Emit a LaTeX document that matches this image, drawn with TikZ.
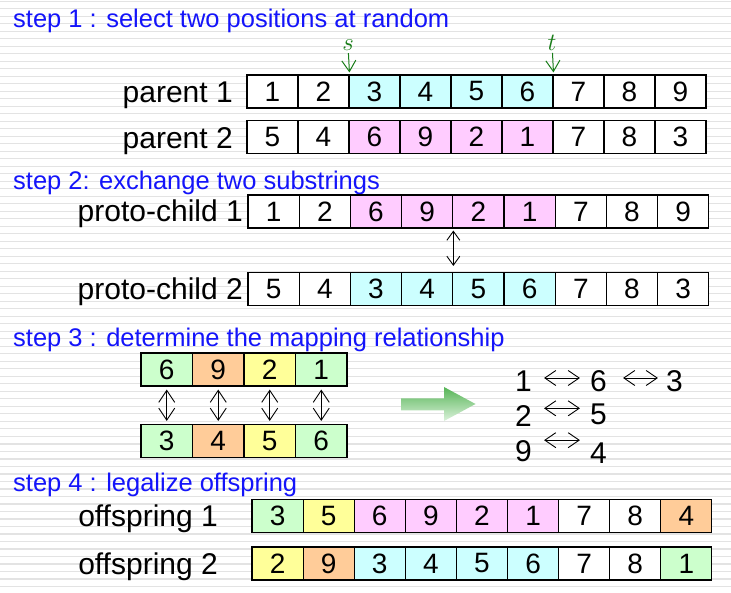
\documentclass[tikz,border=0pt]{standalone}
\usepackage{fontspec}
\setmainfont{Liberation Sans}
\usetikzlibrary{arrows.meta,calc}
\definecolor{cellcyan}{RGB}{204,255,255}
\definecolor{cellpink}{RGB}{255,204,255}
\definecolor{cellgreen}{RGB}{204,255,204}
\definecolor{cellorange}{RGB}{255,204,153}
\definecolor{cellyellow}{RGB}{255,255,153}
\definecolor{stepblue}{RGB}{20,20,250}
\definecolor{markgreen}{RGB}{25,125,25}
\def\cellrow(#1)(#2,#3:#4)#5{\foreach \v/\c [count=\i] in {#5} {\node[cell, minimum width=#4pt, fill=\c] (#1-\i) at ({#2+(\i-0.5)*#4},#3) {\v};}}

\begin{document}
\begin{tikzpicture}[x=1pt, y=-1pt,
	cell/.style={draw, line width=1.1pt, minimum height=33pt, inner sep=0pt, font=\fontsize{28}{28}\selectfont},
	lbl/.style={anchor=base east, inner sep=0pt, font=\fontsize{30}{30}\selectfont},
	steptext/.style={anchor=base west, inner sep=0pt, text=stepblue, font=\fontsize{25.5}{26}\selectfont},
	mapdigit/.style={inner sep=0pt, font=\fontsize{30}{30}\selectfont},
	stripe/.style={line width=1.4pt, color=black!11}]
			%%%%% START %%%%%
			
			\useasboundingbox (0,0) rectangle (731,593);
			\fill[white] (0,0) rectangle (731,593);
			\foreach \k in {0,...,79} \draw[stripe] (0,{1.3+7.5*\k}) -- (731,{1.3+7.5*\k});
			
			% step 1
			\node[steptext] (step1) at (13,27.5) {step 1 : select two positions at random};
			\cellrow(p1)(247,91.5:51){1/white,2/white,3/cellcyan,4/cellcyan,5/cellcyan,6/cellcyan,7/white,8/white,9/white}
			\cellrow(p2)(247,137:51){5/white,4/white,6/cellpink,9/cellpink,2/cellpink,1/cellpink,7/white,8/white,3/white}
			\node[lbl] (l-p1) at (233,103) {parent 1};
			\node[lbl] (l-p2) at (233,148.5) {parent 2};
			
			\node[inner sep=0pt, text=markgreen, font=\fontsize{23}{23}\selectfont] (s) at (348,45.5) {$s$};
			\node[inner sep=0pt, text=markgreen, font=\fontsize{23}{23}\selectfont] (t) at (552,43) {$t$};
			\draw[markgreen, line width=1pt, -{Straight Barb[length=11pt,width=14pt]}, shorten <=2pt, shorten >=2pt] (s) -- (p1-2.north east);
			\draw[markgreen, line width=1pt, -{Straight Barb[length=11pt,width=14pt]}, shorten <=2pt, shorten >=2pt] (t) -- (p1-6.north east);
			
			% step 2
			\node[steptext] (step2) at (13,190) {step 2: exchange two substrings};
			\cellrow(c1)(248,211.5:51.2){1/white,2/white,6/cellpink,9/cellpink,2/cellpink,1/cellpink,7/white,8/white,9/white}
			\cellrow(c2)(248,289:51.2){5/white,4/white,3/cellcyan,4/cellcyan,5/cellcyan,6/cellcyan,7/white,8/white,3/white}
			\node[lbl] (l-c1) at (243,222) {proto-child 1};
			\node[lbl] (l-c2) at (243,299.5) {proto-child 2};
			\draw[line width=0.9pt, {Straight Barb[length=9pt,width=13pt]}-{Straight Barb[length=9pt,width=13pt]}, shorten <=2pt, shorten >=6pt] (c1-4.south east) -- (c2-4.north east);
			
			% step 3
			\node[steptext] (step3) at (13,346.5) {step 3 : determine the mapping relationship};
			\cellrow(m1)(141,369.5:51.5){6/cellgreen,9/cellorange,2/cellyellow,1/cellgreen}
			\cellrow(m2)(141,441:51.5){3/cellgreen,4/cellorange,5/cellyellow,6/cellgreen}
			\foreach \i in {1,...,4}
				\draw[line width=0.9pt, {Straight Barb[length=12pt,width=16pt]}-{Straight Barb[length=12pt,width=16pt]}, shorten <=3pt, shorten >=3pt] (m1-\i) -- (m2-\i);
			
			\shade[top color={rgb,255:red,85;green,180;blue,85}, bottom color={rgb,255:red,220;green,242;blue,220}]
				(401,398.5) -- (444,398.5) -- (444,387) -- (475.5,404) -- (444,421) -- (444,410.5) -- (401,410.5) -- cycle;
			
			\node[mapdigit] (n11) at (523.5,381) {1};
			\node[mapdigit] (n12) at (598.5,381) {6};
			\node[mapdigit] (n13) at (674.5,381) {3};
			\node[mapdigit] (n21) at (523.5,416) {2};
			\node[mapdigit] (n22) at (598.5,414) {5};
			\node[mapdigit] (n31) at (523.5,451) {9};
			\node[mapdigit] (n32) at (598.5,453) {4};
			\draw[line width=0.9pt, {Straight Barb[length=11pt,width=15pt]}-{Straight Barb[length=11pt,width=15pt]}] ([xshift=12pt,yshift=3pt]n11.east) -- ([xshift=-10pt,yshift=3pt]n12.west);
			\draw[line width=0.9pt, {Straight Barb[length=11pt,width=15pt]}-{Straight Barb[length=11pt,width=15pt]}] ([xshift=16pt,yshift=3pt]n12.east) -- ([xshift=-8pt,yshift=3pt]n13.west);
			\draw[line width=0.9pt, {Straight Barb[length=11pt,width=15pt]}-{Straight Barb[length=11pt,width=15pt]}] ([xshift=12pt,yshift=-3pt]n21.north east) -- ([xshift=-10pt,yshift=-3pt]n21.north east -| n22.west);
			\draw[line width=0.9pt, {Straight Barb[length=11pt,width=15pt]}-{Straight Barb[length=11pt,width=15pt]}] ([xshift=12pt,yshift=0pt]n31.north east) -- ([xshift=-10pt,yshift=0pt]n31.north east -| n32.west);
			
			% step 4
			\node[steptext] (step4) at (13,491.5) {step 4 : legalize offspring};
			\cellrow(o1)(252,516:51.1){3/cellgreen,5/cellyellow,6/cellpink,9/cellpink,2/cellpink,1/cellpink,7/white,8/white,4/cellorange}
			\cellrow(o2)(252,563.5:51.1){2/cellyellow,9/cellorange,3/cellcyan,4/cellcyan,5/cellcyan,6/cellcyan,7/white,8/white,1/cellgreen}
			\node[lbl] (l-o1) at (218,526.5) {offspring 1};
			\node[lbl] (l-o2) at (218,574) {offspring 2};
			
			%%%%% END %%%%%
\end{tikzpicture}
\end{document}
